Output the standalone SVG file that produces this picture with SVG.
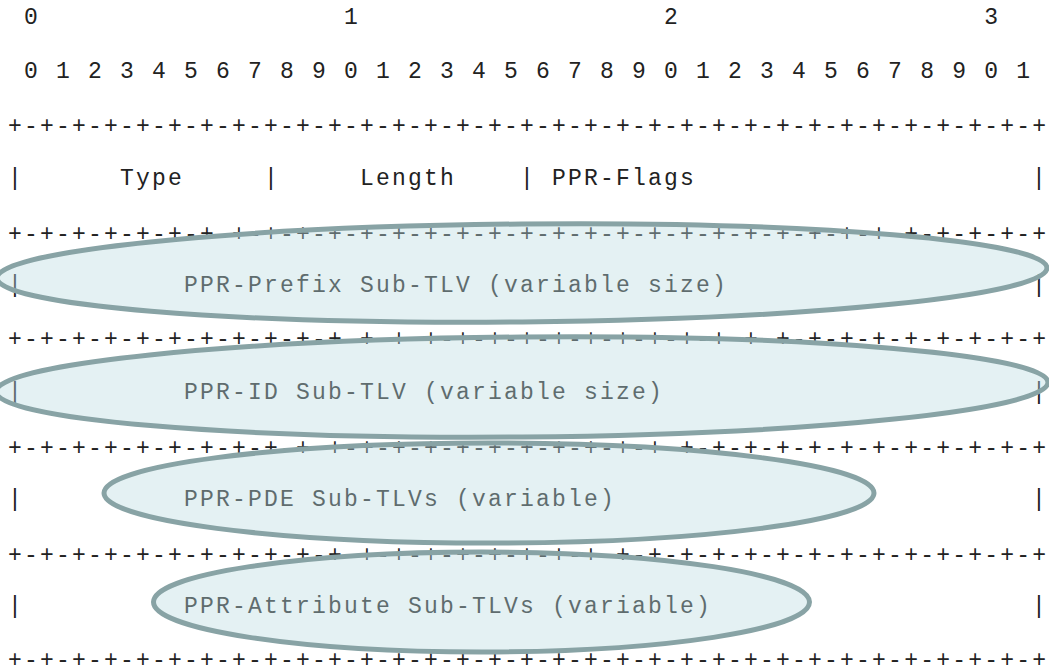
<svg xmlns="http://www.w3.org/2000/svg" width="1049" height="670" viewBox="0 0 1049 670">
<style>
.t{font-family:"Liberation Mono","Courier New",monospace;font-size:23px;letter-spacing:2.2px;fill:#222;white-space:pre}
.ov{fill:#bbdce1;fill-opacity:0.4;stroke:#88a3a5;stroke-width:5}
</style>
<rect width="1049" height="670" fill="#fff"/>
<g id="ruler">
<text class="t" x="8" y="24" xml:space="preserve"> 0                   1                   2                   3</text>
<text class="t" x="8" y="78" xml:space="preserve"> 0 1 2 3 4 5 6 7 8 9 0 1 2 3 4 5 6 7 8 9 0 1 2 3 4 5 6 7 8 9 0 1</text>
</g>
<g id="borders">
<text class="t" x="8" y="133">+-+-+-+-+-+-+-+-+-+-+-+-+-+-+-+-+-+-+-+-+-+-+-+-+-+-+-+-+-+-+-+-+</text>
<text class="t" x="8" y="241">+-+-+-+-+-+-+-+-+-+-+-+-+-+-+-+-+-+-+-+-+-+-+-+-+-+-+-+-+-+-+-+-+</text>
<text class="t" x="8" y="346">+-+-+-+-+-+-+-+-+-+-+-+-+-+-+-+-+-+-+-+-+-+-+-+-+-+-+-+-+-+-+-+-+</text>
<text class="t" x="8" y="455">+-+-+-+-+-+-+-+-+-+-+-+-+-+-+-+-+-+-+-+-+-+-+-+-+-+-+-+-+-+-+-+-+</text>
<text class="t" x="8" y="562">+-+-+-+-+-+-+-+-+-+-+-+-+-+-+-+-+-+-+-+-+-+-+-+-+-+-+-+-+-+-+-+-+</text>
<text class="t" x="8" y="667">+-+-+-+-+-+-+-+-+-+-+-+-+-+-+-+-+-+-+-+-+-+-+-+-+-+-+-+-+-+-+-+-+</text>
</g>
<g id="header">
<text class="t" x="8" y="185">|</text>
<text class="t" x="120" y="185">Type</text>
<text class="t" x="264" y="185">|</text>
<text class="t" x="360" y="185">Length</text>
<text class="t" x="520" y="185">|</text>
<text class="t" x="552" y="185">PPR-Flags</text>
<text class="t" x="1032" y="185">|</text>
</g>
<g id="node-prefix">
<text class="t" x="8" y="292">|</text>
<text class="t" x="184" y="292">PPR-Prefix Sub-TLV (variable size)</text>
<text class="t" x="1032" y="292">|</text>
<ellipse class="ov" cx="522" cy="273" rx="525" ry="49" transform="rotate(-0.55 522 273)"/>
</g>
<g id="node-id">
<text class="t" x="8" y="399">|</text>
<text class="t" x="184" y="399">PPR-ID Sub-TLV (variable size)</text>
<text class="t" x="1032" y="399">|</text>
<ellipse class="ov" cx="522" cy="387" rx="526" ry="50" transform="rotate(-0.5 522 387)"/>
</g>
<g id="node-pde">
<text class="t" x="8" y="506">|</text>
<text class="t" x="184" y="506">PPR-PDE Sub-TLVs (variable)</text>
<text class="t" x="1032" y="506">|</text>
<ellipse class="ov" cx="489" cy="493" rx="385" ry="50"/>
</g>
<g id="node-attribute">
<text class="t" x="8" y="613">|</text>
<text class="t" x="184" y="613">PPR-Attribute Sub-TLVs (variable)</text>
<text class="t" x="1032" y="613">|</text>
<ellipse class="ov" cx="481.5" cy="602" rx="328" ry="50"/>
</g>
<g id="connectors"/>
</svg>
